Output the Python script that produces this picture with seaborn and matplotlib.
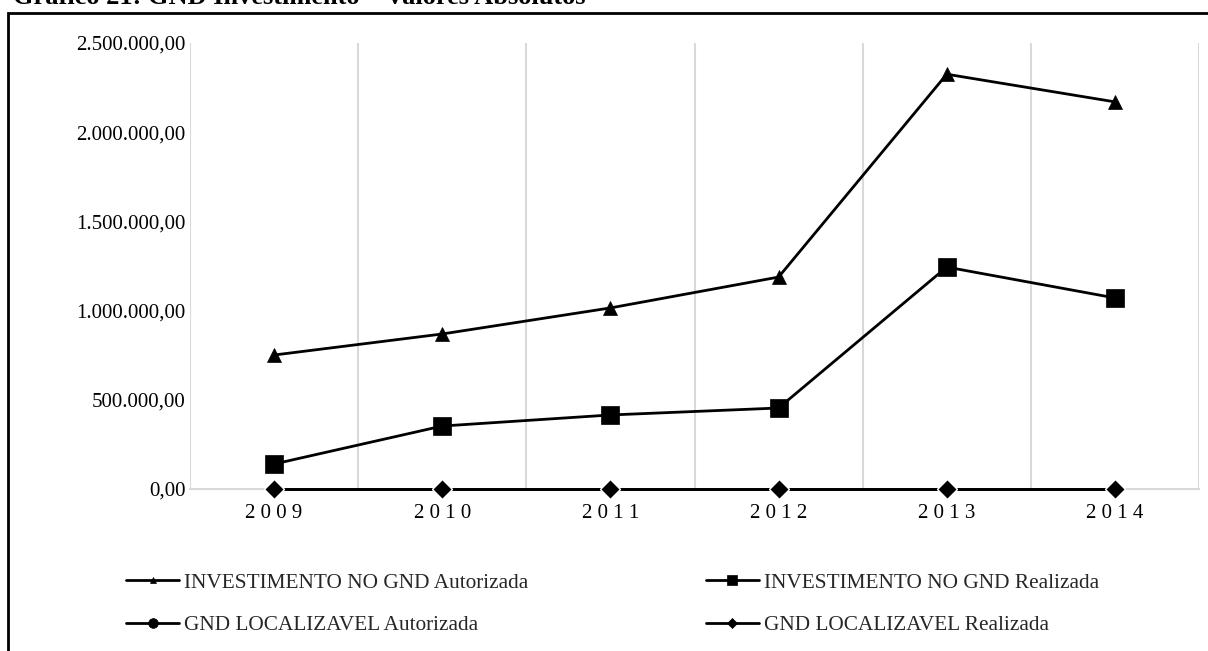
import matplotlib
matplotlib.use("Agg")
import matplotlib.pyplot as plt
import matplotlib.ticker as mticker
from matplotlib.patches import Rectangle
import seaborn as sns
import pandas as pd

# Series values (R$) per year
years = [2009, 2010, 2011, 2012, 2013, 2014]
inv_autorizada = [751000, 869000, 1015000, 1188000, 2325000, 2170000]
inv_realizada = [140000, 353000, 415000, 454000, 1244000, 1071000]
loc_autorizada = [0, 0, 0, 0, 0, 0]
loc_realizada = [0, 0, 0, 0, 0, 0]

series_names = [
    "INVESTIMENTO NO GND Autorizada",
    "GND LOCALIZAVEL Autorizada",
    "INVESTIMENTO NO GND Realizada",
    "GND LOCALIZAVEL Realizada",
]
series_values = [inv_autorizada, loc_autorizada, inv_realizada, loc_realizada]
series_markers = ["^", "o", "s", "D"]
series_sizes = [10, 9, 13, 10]
legend_sizes = [5, 7, 7, 5]

title_text = "Gráfico 21: GND Investimento – Valores Absolutos"

rows = []
for name, vals in zip(series_names, series_values):
    for i, (yr, v) in enumerate(zip(years, vals)):
        rows.append({"pos": i, "ano": yr, "valor": v, "serie": name})
df = pd.DataFrame(rows)

sns.set_theme(style="white")
plt.rcParams["font.family"] = ["Liberation Serif", "DejaVu Serif"]

W, H = 1208, 651
fig = plt.figure(figsize=(W / 100, H / 100), dpi=100)
fig.patch.set_facecolor("white")
ax = fig.add_axes([190 / W, 1 - 489 / H, (1199 - 190) / W, (489 - 43) / H])

# Draw in an order so the realizada zero line sits on top
draw_order = [0, 2, 1, 3]
for k in draw_order:
    name = series_names[k]
    sub = df[df["serie"] == name]
    sns.lineplot(
        data=sub, x="pos", y="valor", ax=ax, color="black", linewidth=2.0,
        marker=series_markers[k], markersize=series_sizes[k],
        markeredgecolor="white" if series_markers[k] == "D" else "black",
        markeredgewidth=1.0 if series_markers[k] == "D" else 0.5,
        markerfacecolor="black", label=name, zorder=3 + k, clip_on=False,
    )

ax.set_xlim(-0.5, len(years) - 0.5)
ax.set_ylim(0, 2500000)
ax.set_xticks(range(len(years)))
ax.set_xticklabels([" ".join(str(y)) for y in years])
ax.set_yticks([0, 500000, 1000000, 1500000, 2000000, 2500000])


def br_fmt(v, _pos):
    s = f"{v:,.2f}"
    return s.replace(",", "X").replace(".", ",").replace("X", ".")


ax.yaxis.set_major_formatter(mticker.FuncFormatter(br_fmt))
ax.tick_params(axis="y", length=0, pad=3, labelsize=15, labelcolor="black")
ax.tick_params(axis="x", length=0, pad=11, labelsize=15, labelcolor="black")
ax.set_xlabel("")
ax.set_ylabel("")

# Vertical gridlines at the category boundaries
for b in [i - 0.5 for i in range(len(years) + 1)]:
    ax.axvline(b, color="#d9d9d9", linewidth=1.5, zorder=0)
for side in ["top", "right", "left"]:
    ax.spines[side].set_visible(False)
ax.spines["bottom"].set_color("#d9d9d9")
ax.spines["bottom"].set_linewidth(1.5)

if ax.get_legend() is not None:
    ax.get_legend().remove()

handles, labels = ax.get_legend_handles_labels()
hmap = dict(zip(labels, handles))
leg_handles = [hmap[n] for n in series_names]
leg = fig.legend(
    leg_handles, series_names, ncol=2, loc="center left",
    bbox_to_anchor=(107 / W, 1 - 604 / H), frameon=False, fontsize=15.3,
    handlelength=2.5, handletextpad=0.24, columnspacing=8.33, labelspacing=1.05,
)
for lh, ms in zip(leg.legend_handles, legend_sizes):
    lh.set_markersize(ms)
    lh.set_markeredgecolor("black")
    lh.set_markeredgewidth(0.5)
    lh.set_linewidth(2.0)

# Chart frame and the caption line above it
fig.add_artist(Rectangle((8 / W, -0.2), 1.5, 1.2 - 13 / H,
                         transform=fig.transFigure, fill=False,
                         edgecolor="black", linewidth=2.0))
fig.text(13 / W, 1 - 4.5 / H, title_text, ha="left", va="baseline",
         fontsize=19, fontweight="bold", color="black")

fig.savefig("out.png", dpi=100, facecolor="white")
